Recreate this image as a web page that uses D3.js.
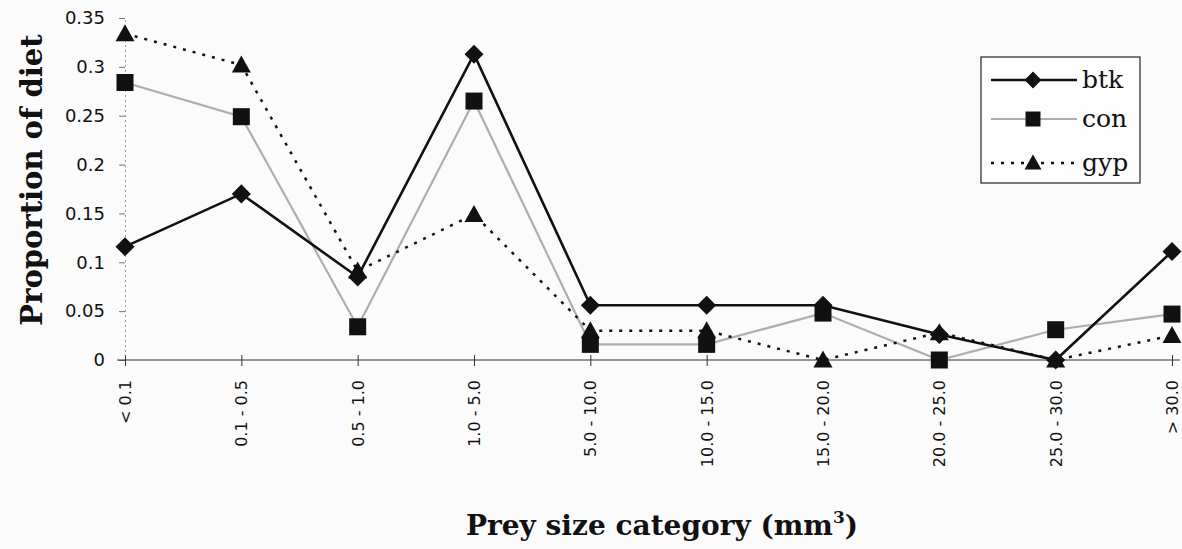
<!DOCTYPE html>
<html>
<head>
<meta charset="utf-8">
<script src="https://cdn.jsdelivr.net/npm/d3@7"></script>
<style>
  body { margin: 0; background: #fbfbfb; }
  text { fill: #111; }
</style>
</head>
<body>
<script>
var categories = ["< 0.1", "0.1 - 0.5", "0.5 - 1.0", "1.0 - 5.0", "5.0 - 10.0",
                  "10.0 - 15.0", "15.0 - 20.0", "20.0 - 25.0", "25.0 - 30.0", "> 30.0"];
var btk = [0.116, 0.170, 0.085, 0.313, 0.056, 0.056, 0.056, 0.026, 0.0, 0.111];
var con = [0.284, 0.249, 0.034, 0.265, 0.016, 0.016, 0.048, 0.0, 0.031, 0.047];
var gyp = [0.334, 0.302, 0.091, 0.149, 0.030, 0.030, 0.0, 0.028, 0.0, 0.025];
var yTicks = [0, 0.05, 0.1, 0.15, 0.2, 0.25, 0.3, 0.35];
var seriesNames = ["btk", "con", "gyp"];

var width = 1182, height = 549;
var serif = "'DejaVu Serif', serif";

var svg = d3.select("body").append("svg")
            .attr("width", width)
            .attr("height", height);

var x = d3.scalePoint()
          .domain(categories)
          .range([125, 1172]);

var y = d3.scaleLinear()
          .domain([0, 0.35])
          .range([360, 18]);

// y axis: dotted vertical line, small ticks, labels
var yAxis = svg.append("g")
               .attr("transform", "translate(" + x(categories[0]) + ",0)")
               .call(d3.axisLeft(y).tickValues(yTicks).tickFormat(d => d === 0 ? "0" : String(d)).tickSize(6).tickPadding(14));
yAxis.select(".domain").attr("stroke", "#999").attr("stroke-dasharray", "2,3");
yAxis.selectAll(".tick line").attr("stroke", "#777");
yAxis.selectAll(".tick text").attr("font-size", 18).attr("font-family", "'DejaVu Sans', sans-serif").attr("fill", "#222");

// x axis at y=0
var xAxis = svg.append("g")
               .attr("transform", "translate(0," + y(0) + ")")
               .call(d3.axisBottom(x).tickSizeOuter(0).tickSize(6).tickPadding(20));
xAxis.select(".domain").attr("d", "M117,0H1180").attr("stroke", "#333").attr("stroke-width", 1.2);
xAxis.selectAll(".tick line").attr("y1", -5).attr("stroke", "#333");
xAxis.selectAll(".tick text")
     .attr("font-size", 16)
     .attr("font-family", "'DejaVu Sans', sans-serif")
     .attr("fill", "#222")
     .attr("transform", "rotate(-90)")
     .attr("text-anchor", "end")
     .attr("x", -20)
     .attr("y", 0)
     .attr("dy", "0.35em");

// series
var lineGen = d3.line()
                .x((d, i) => x(categories[i]))
                .y(d => y(d));

var styles = {
  con: { stroke: "#aeaeae", width: 2.2, dash: null },
  gyp: { stroke: "#111", width: 2.5, dash: "3,7" },
  btk: { stroke: "#111", width: 2.6, dash: null }
};
var data = { btk: btk, con: con, gyp: gyp };

function drawMarker(g, name, cx, cy, s) {
  var h = s / 2;
  if (name === "btk") {
    h = s * 0.56;
    g.append("path")
     .attr("d", "M" + cx + "," + (cy - h) + "L" + (cx + h) + "," + cy + "L" + cx + "," + (cy + h) + "L" + (cx - h) + "," + cy + "Z")
     .attr("fill", "#111");
  } else if (name === "con") {
    g.append("rect").attr("x", cx - h).attr("y", cy - h)
     .attr("width", s).attr("height", s).attr("fill", "#111");
  } else {
    g.append("path")
     .attr("d", "M" + cx + "," + (cy - h - 1) + "L" + (cx + h + 1) + "," + (cy + h - 1) + "L" + (cx - h - 1) + "," + (cy + h - 1) + "Z")
     .attr("fill", "#111");
  }
}

["con", "gyp", "btk"].forEach(name => {
  var st = styles[name];
  svg.append("path")
     .datum(data[name])
     .attr("d", lineGen)
     .attr("fill", "none")
     .attr("stroke", st.stroke)
     .attr("stroke-width", st.width)
     .attr("stroke-dasharray", st.dash);
});
["con", "gyp", "btk"].forEach(name => {
  var g = svg.append("g");
  data[name].forEach((v, i) => drawMarker(g, name, x(categories[i]), y(v), 17));
});

// legend
var legend = svg.append("g");
legend.append("rect")
      .attr("x", 981).attr("y", 57)
      .attr("width", 159).attr("height", 126)
      .attr("fill", "#fdfdfd")
      .attr("stroke", "#333").attr("stroke-width", 1.3);
var legendY = [80, 119, 163];
seriesNames.forEach((name, i) => {
  var st = styles[name];
  legend.append("line")
        .attr("x1", 991).attr("x2", 1077)
        .attr("y1", legendY[i]).attr("y2", legendY[i])
        .attr("stroke", st.stroke)
        .attr("stroke-width", st.width)
        .attr("stroke-dasharray", st.dash);
  drawMarker(legend, name, 1033, legendY[i], 15);
  legend.append("text")
        .attr("x", 1082).attr("y", legendY[i])
        .attr("dy", "0.32em")
        .attr("font-family", serif)
        .attr("font-size", 25)
        .text(name);
});

// axis titles
svg.append("text")
   .attr("transform", "translate(42,180) rotate(-90)")
   .attr("text-anchor", "middle")
   .attr("font-family", serif)
   .attr("font-size", 29)
   .attr("font-weight", "bold")
   .text("Proportion of diet");

var xt = svg.append("text")
   .attr("x", 662).attr("y", 535)
   .attr("text-anchor", "middle")
   .attr("font-family", serif)
   .attr("font-size", 28)
   .attr("font-weight", "bold");
xt.append("tspan").text("Prey size category (mm");
xt.append("tspan").attr("dy", -12).attr("font-size", 17).text("3");
xt.append("tspan").attr("dy", 12).text(")");
</script>
</body>
</html>
